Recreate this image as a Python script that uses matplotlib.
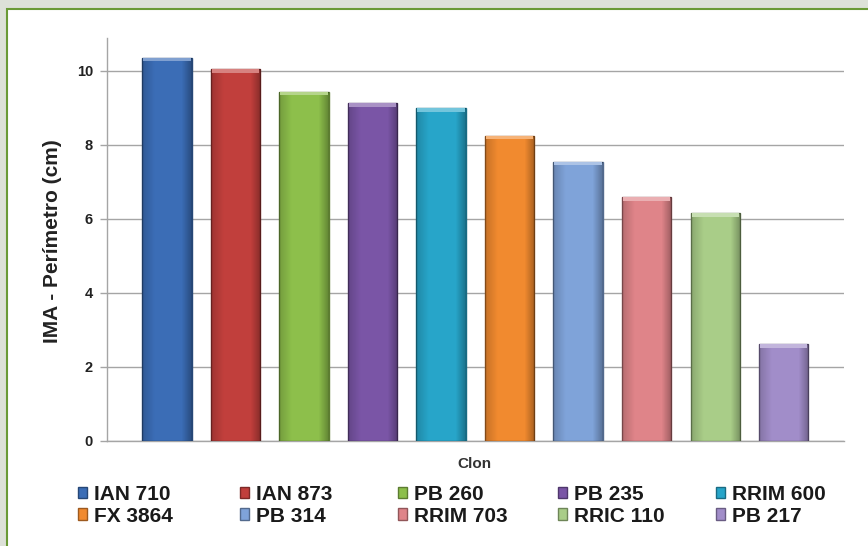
import matplotlib
matplotlib.use('Agg')
import matplotlib.pyplot as plt
import numpy as np
from matplotlib.patches import Rectangle
from matplotlib.colors import to_rgb

plt.rcParams['font.family'] = ['Liberation Sans', 'DejaVu Sans']

clones = ['IAN 710', 'IAN 873', 'PB 260', 'PB 235', 'RRIM 600',
          'FX 3864', 'PB 314', 'RRIM 703', 'RRIC 110', 'PB 217']
ima = [10.36, 10.05, 9.44, 9.13, 8.99, 8.25, 7.55, 6.60, 6.15, 2.62]
colors = ['#3b6db6', '#c13f3c', '#8dbf4b', '#7a55a6', '#27a5c9',
          '#f18a2f', '#7fa3d9', '#df8489', '#a9cd88', '#a18dc9']
yticks = [0, 2, 4, 6, 8, 10]

W, H = 868, 546
fig = plt.figure(figsize=(W / 100, H / 100), dpi=100)
fig.patch.set_facecolor('#dde1d8')

# white panel with green frame line
panel = Rectangle((7 / W, -0.02), 1.0, 1 - 9 / H + 0.02, transform=fig.transFigure,
                  facecolor='white', edgecolor='#6a9a36', lw=1.5, zorder=-5)
fig.patches.append(panel)

ax = fig.add_axes([107 / W, 105 / H, 737 / W, (441 - 37.7) / H])
ax.set_facecolor('none')

x = np.arange(len(clones))
bw = 0.72

def darker(c, f):
    r, g, b = to_rgb(c)
    return (r * f, g * f, b * f)

def lighter(c, f):
    r, g, b = to_rgb(c)
    return (r + (1 - r) * f, g + (1 - g) * f, b + (1 - b) * f)

bars = ax.bar(x, ima, width=bw, color=colors, edgecolor=[darker(c, 0.65) for c in colors],
              linewidth=1.0, zorder=3)

# side shading and a light top cap for a bevelled look
grad = np.zeros((1, 64, 4))
t = np.linspace(0, 1, 64)
grad[0, :, 3] = np.clip(0.18 * (1 - t / 0.25), 0, None) + np.clip(0.30 * (t - 0.8) / 0.2, 0, None)
for b, c, v in zip(bars, colors, ima):
    im = ax.imshow(grad, extent=(b.get_x(), b.get_x() + bw, 0, v), aspect='auto',
                   zorder=4, interpolation='bilinear')
    im.set_clip_path(b)
    ax.bar(b.get_x() + bw / 2, 0.1, bottom=v - 0.1, width=bw * 0.96,
           color=lighter(c, 0.35), linewidth=0, zorder=5)

ax.set_xlim(-0.876, 9.88)
ax.set_ylim(0, 10.9)
ax.set_yticks(yticks)
ax.set_yticklabels([str(v) for v in yticks], fontsize=10.5, fontweight='bold', color='#222222')
ax.set_xticks([])
ax.yaxis.grid(True, color='#a5a5a5', lw=1.0, zorder=1)
ax.set_axisbelow(True)
ax.tick_params(axis='y', length=5, width=1, color='#a5a5a5', pad=5)
for s in ['top', 'right']:
    ax.spines[s].set_visible(False)
for s in ['left', 'bottom']:
    ax.spines[s].set_color('#a5a5a5')
    ax.spines[s].set_linewidth(1.0)

ax.set_ylabel('IMA - Perímetro (cm)', fontsize=15, fontweight='bold', color='#222222')
ax.yaxis.set_label_coords((62 - 107) / 737, (441 - 241) / (441 - 37.7))

fig.text(474 / W, 1 - 464 / H, 'Clon', fontsize=11, fontweight='bold', color='#333333',
         ha='center', va='center')

# legend: five columns, two rows
col_x = [78, 240, 398, 558, 716]
handles = list(bars)
for i, cx in enumerate(col_x):
    idx = [i, i + 5]
    leg = fig.legend([handles[j] for j in idx], [clones[j] for j in idx],
                     loc='upper left', bbox_to_anchor=(cx / W, 1 - 485 / H),
                     frameon=False, prop={'weight': 'bold', 'size': 15},
                     handlelength=0.45, handleheight=0.45, handletextpad=0.3,
                     labelspacing=0.12, borderpad=0, borderaxespad=0)
    for txt in leg.get_texts():
        txt.set_color('#1a1a1a')

fig.savefig('out.png', dpi=100, facecolor=fig.get_facecolor())
